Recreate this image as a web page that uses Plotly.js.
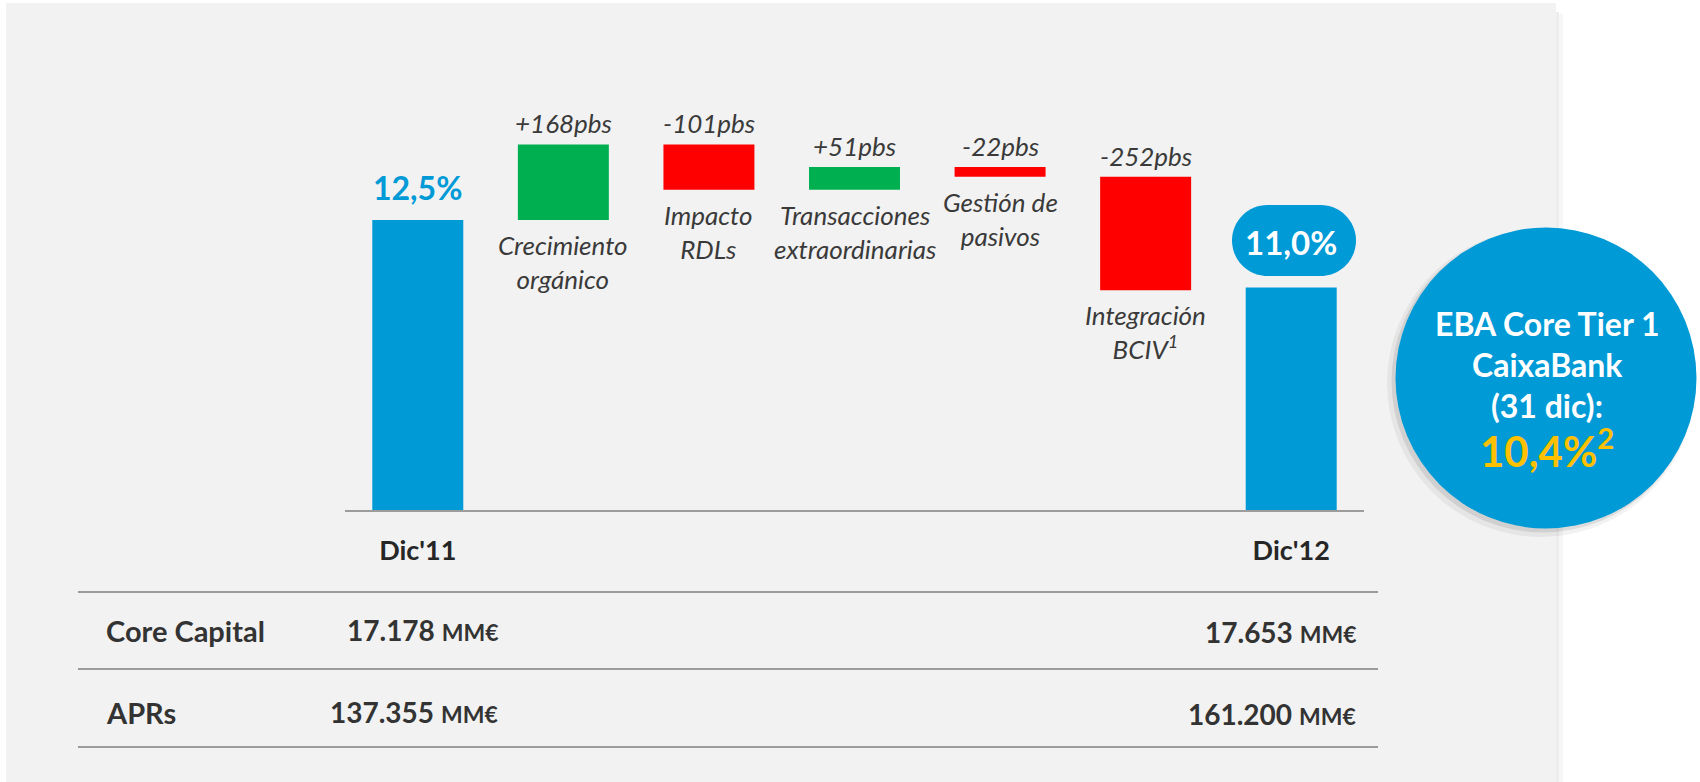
<!DOCTYPE html>
<html><head><meta charset="utf-8">
<script src="https://cdn.plot.ly/plotly-3.0.1.min.js"></script>
<style>html,body{margin:0;padding:0;background:#fff;} #chart{width:1700px;height:782px;}</style>
</head><body><div id="chart"></div>
<script>
// ---- data ----
const categories = ["Dic'11","Crecimiento orgánico","Impacto RDLs","Transacciones extraordinarias","Gestión de pasivos","Integración BCIV","Dic'12"];
const measures = ["absolute","relative","relative","relative","relative","relative","absolute"];
const startRatio = 12.5;          // %
const changesBps = [168, -101, 51, -22, -252];
const endRatio = 11.0;            // %
const tickCats = ["Dic'11", "Dic'12"];
const tickLabels = ["Dic'11", "Dic'12"];
const stepLabels = ["Crecimiento<br>orgánico","Impacto<br>RDLs","Transacciones<br>extraordinarias","Gestión de<br>pasivos","Integración<br>BCIV<sup>1</sup>"];
const tableRows = ["Core Capital","APRs"];
const dic11Values = ["17.178","137.355"];
const dic12Values = ["17.653","161.200"];
const unit = "MM€";
const ebaLines = ["EBA Core Tier 1","CaixaBank","(31 dic):"];
const ebaValue = "10,4%";
const ebaNote = "2";

// ---- build ----
const values = [startRatio].concat(changesBps.map(b => b/100)).concat([endRatio]);
const FONT = "Lato, 'Open Sans', sans-serif";
const BLUE = "#009ad7", GREEN = "#00b050", RED = "#ff0000", GOLD = "#ffc000", TXT = "#3a3a3a";

const W = 1700, H = 782, L = 345, R = 1364, T = 60, B = 510;
const px = x => (x - L) / (R - L);
const py = y => (B - y) / (B - T);
const Y0 = 6.056, Y1 = 16.056;

const fmtPct = v => v.toFixed(1).replace('.', ',') + '%';
const fmtBps = b => (b > 0 ? '+' : '') + b + 'pbs';

const annotations = [];
// step labels
let level = startRatio;
changesBps.forEach((b, i) => {
  const before = level, after = level + b/100;
  level = after;
  const cat = categories[i+1];
  annotations.push({x: cat, y: Math.max(before, after), xref:'x', yref:'y', text: fmtBps(b),
    showarrow:false, yanchor:'bottom', yshift:3,
    font:{family:FONT, size:26, style:'italic', color:TXT}});
  annotations.push({x: cat, y: Math.min(before, after), xref:'x', yref:'y', text: stepLabels[i],
    showarrow:false, yanchor:'top', yshift:-7,
    font:{family:FONT, size:26, style:'italic', color:TXT}});
});
// start / end value labels
annotations.push({x: categories[0], y: startRatio, xref:'x', yref:'y', text: fmtPct(startRatio),
  showarrow:false, yanchor:'bottom', yshift:11,
  font:{family:FONT, size:32, weight:700, color:BLUE}});
annotations.push({x: categories[6], y: endRatio, xref:'x', yref:'y', text: fmtPct(endRatio),
  showarrow:false, yanchor:'middle', yshift:46,
  font:{family:FONT, size:33, weight:700, color:'#ffffff'}});

// table
const rowY = [630, 712];
tableRows.forEach((r, i) => {
  annotations.push({xref:'paper', yref:'paper', x: px(104), y: py(rowY[i]), xanchor:'left', yanchor:'middle',
    text: r, showarrow:false, font:{family:FONT, size:29, weight:700, color:'#333333'}});
  annotations.push({xref:'paper', yref:'paper', x: px(500), y: py(rowY[i]), xanchor:'right', yanchor:'middle',
    text: dic11Values[i] + " <span style='font-size:23px'>" + unit + "</span>", showarrow:false,
    font:{family:FONT, size:28, weight:700, color:'#333333'}});
  annotations.push({xref:'paper', yref:'paper', x: px(1358), y: py(rowY[i]+2), xanchor:'right', yanchor:'middle',
    text: dic12Values[i] + " <span style='font-size:23px'>" + unit + "</span>", showarrow:false,
    font:{family:FONT, size:28, weight:700, color:'#333333'}});
});

// EBA circle text
const ebaY = [323, 364, 405];
ebaLines.forEach((t, i) => {
  annotations.push({xref:'paper', yref:'paper', x: px(1547), y: py(ebaY[i]), xanchor:'center', yanchor:'middle',
    text: t, showarrow:false, font:{family:FONT, size:32, weight:700, color:'#ffffff'}});
});
annotations.push({xref:'paper', yref:'paper', x: px(1547), y: py(448), xanchor:'center', yanchor:'middle',
  text: ebaValue + "<sup>" + ebaNote + "</sup>", showarrow:false, font:{family:FONT, size:42, weight:700, color:GOLD}});

// shapes
const shapes = [];
const rect = (x0,y0,x1,y1,fill,layer) => ({type:'rect', xref:'paper', yref:'paper', x0:px(x0), x1:px(x1), y0:py(y1), y1:py(y0), fillcolor:fill, line:{width:0}, layer:layer||'below'});
shapes.push(rect(1556, 12, 1559, 782, 'rgba(0,0,0,0.07)'));
shapes.push(rect(1559, 14, 1563, 782, 'rgba(0,0,0,0.03)'));
shapes.push(rect(6, 3, 1556, 790, '#f2f2f2'));
// table lines
[592, 669, 747].forEach(y => shapes.push({type:'line', xref:'paper', yref:'paper', x0:px(78), x1:px(1378), y0:py(y), y1:py(y), line:{color:'#9c9c9c', width:2}, layer:'below'}));
// circle + shadow
const circ = (cx, cy, r, fill) => ({type:'circle', xref:'paper', yref:'paper', x0:px(cx-r), x1:px(cx+r), y0:py(cy+r), y1:py(cy-r), fillcolor:fill, line:{width:0}, layer:'above'});
shapes.push(circ(1541, 383, 154, 'rgba(0,0,0,0.05)'));
shapes.push(circ(1543, 381, 151.5, 'rgba(0,0,0,0.09)'));
shapes.push(circ(1546, 378, 150.5, BLUE));
// pill
function pill(x0, y0, x1, y1, r, fill) {
  const k = 0.5523;
  const P = (x, y) => px(x).toFixed(5) + ',' + py(y).toFixed(5);
  const d = 'M' + P(x0+r, y0) + ' L' + P(x1-r, y0) +
    ' C' + P(x1-r+k*r, y0) + ' ' + P(x1, y0+r-k*r) + ' ' + P(x1, y0+r) +
    ' L' + P(x1, y1-r) +
    ' C' + P(x1, y1-r+k*r) + ' ' + P(x1-r+k*r, y1) + ' ' + P(x1-r, y1) +
    ' L' + P(x0+r, y1) +
    ' C' + P(x0+r-k*r, y1) + ' ' + P(x0, y1-r+k*r) + ' ' + P(x0, y1-r) +
    ' L' + P(x0, y0+r) +
    ' C' + P(x0, y0+r-k*r) + ' ' + P(x0+r-k*r, y0) + ' ' + P(x0+r, y0) + ' Z';
  return {type:'path', xref:'paper', yref:'paper', path:d, fillcolor:fill, line:{width:0}, layer:'above'};
}
shapes.push(pill(1232, 205, 1356, 276, 35.5, BLUE));

const trace = {
  type:'waterfall', x: categories, y: values, measure: measures,
  width: 0.625,
  increasing:{marker:{color:GREEN}}, decreasing:{marker:{color:RED}}, totals:{marker:{color:BLUE}},
  connector:{visible:false}, hoverinfo:'skip', textinfo:'none', cliponaxis:true
};

const layout = {
  width: W, height: H,
  margin:{l:L, r:W-R, t:T, b:H-B, pad:0},
  paper_bgcolor:'#ffffff', plot_bgcolor:'rgba(0,0,0,0)',
  showlegend:false,
  xaxis:{type:'category', range:[-0.5, 6.5], showgrid:false, zeroline:false,
    showline:true, linecolor:'#9c9c9c', linewidth:2,
    tickmode:'array', tickvals:tickCats, ticktext:tickLabels, ticks:'', ticklabelstandoff:16,
    tickfont:{family:FONT, size:27, weight:700, color:'#262626'}},
  yaxis:{range:[Y0, Y1], visible:false, showgrid:false, zeroline:false},
  shapes: shapes, annotations: annotations
};
Plotly.newPlot('chart', [trace], layout, {staticPlot:true, displayModeBar:false});
</script></body></html>
